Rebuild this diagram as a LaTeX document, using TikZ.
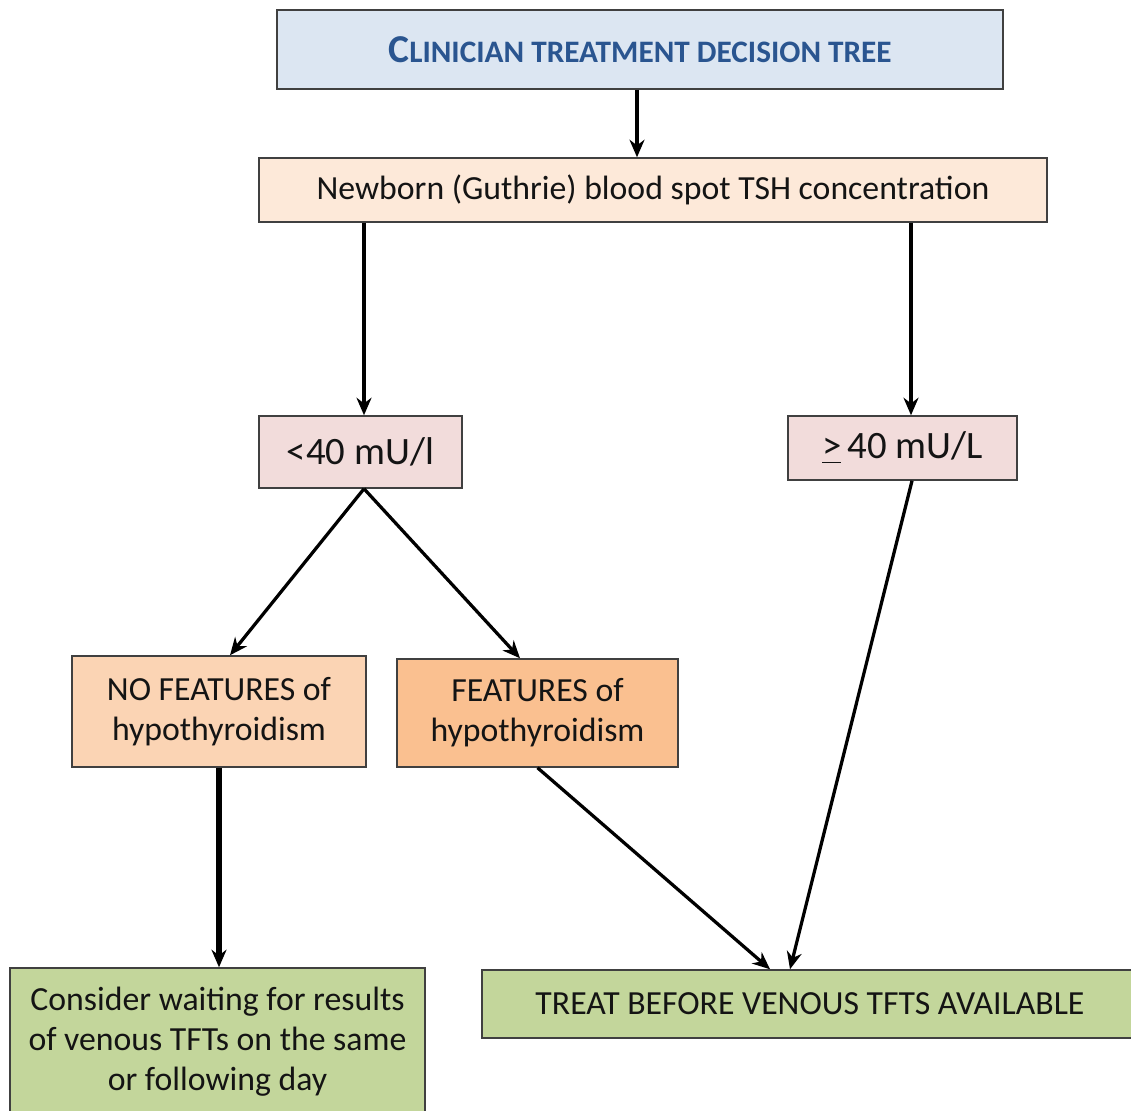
\documentclass[tikz,border=0pt]{standalone}
\usepackage{fontspec}
\setmainfont{Carlito}
\usetikzlibrary{arrows.meta}

\definecolor{titlefill}{HTML}{DCE6F2}
\definecolor{titletext}{HTML}{2A5590}
\definecolor{spotfill}{HTML}{FDE9D9}
\definecolor{levelfill}{HTML}{F2DCDB}
\definecolor{nofeatfill}{HTML}{FBD4B4}
\definecolor{featfill}{HTML}{FAC090}
\definecolor{actfill}{HTML}{C3D69B}
\definecolor{boxline}{HTML}{404040}

\tikzset{
  box/.style={draw=boxline, line width=0.6pt, inner sep=0pt, align=center,
    text=black!92, font=\fontsize{13.5}{16}\selectfont},
  link/.style={line width=1.3pt, -{Stealth[length=7pt,width=6pt]}}
}

\begin{document}
\begin{tikzpicture}[x=0.4pt,y=0.4pt,yscale=-1,xscale=1]
\clip (0,0) rectangle (1131,1111);
% Boxes
\node [box, fill=titlefill, minimum width=290.4pt, minimum height=31.6pt,
  text=titletext, font=\fontsize{15.8}{16}\selectfont\bfseries]
  (title) at (640,49.5)
  {C{\fontsize{12.5}{14}\selectfont LINICIAN TREATMENT DECISION TREE}};
\node [box, fill=spotfill, minimum width=315.2pt, minimum height=25.6pt]
  (spot) at (653,190) {Newborn (Guthrie) blood spot TSH concentration};
\node [box, fill=levelfill, minimum width=81.2pt, minimum height=28.8pt,
  font=\fontsize{15.5}{18}\selectfont] (low) at (360.5,452) {<40 mU/l};
\node [box, fill=levelfill, minimum width=91.6pt, minimum height=25.6pt,
  font=\fontsize{15.5}{18}\selectfont] (high) at (902.5,448) {\underline{>}\,40 mU/L};
\node [box, fill=nofeatfill, minimum width=117.6pt, minimum height=44.4pt]
  (nofeat) at (219,711.5) {NO FEATURES of\\hypothyroidism};
\node [box, fill=featfill, minimum width=112.4pt, minimum height=43.2pt]
  (feat) at (537.5,713) {FEATURES of\\hypothyroidism};
\node [box, fill=actfill, minimum width=166pt, minimum height=59.2pt]
  (wait) at (217.5,1042) {Consider waiting for results\\of venous TFTs on the same\\or following day};
\node [box, fill=actfill, minimum width=262.4pt, minimum height=27.2pt]
  (treat) at (810,1004) {TREAT BEFORE VENOUS TFTS AVAILABLE};
% Connectors
\draw [link] (title.south -| 637,0) -- (spot.north -| 637,0);
\draw [link] (spot.south -| 364,0) -- (low.north -| 364,0);
\draw [link] (spot.south -| 911,0) -- (high.north -| 911,0);
\draw [link] (low.south -| 364,0) -- (nofeat.north -| 230,0);
\draw [link] (low.south -| 364,0) -- (feat.north -| 520,0);
\draw [link, line width=2.2pt] (nofeat.south) -- (wait.north -| nofeat.south);
\draw [link] (feat.south) -- (treat.north -| 770,0);
\draw [link] (high.south -| 912,0) -- (treat.north -| 790,0);
\end{tikzpicture}
\end{document}
